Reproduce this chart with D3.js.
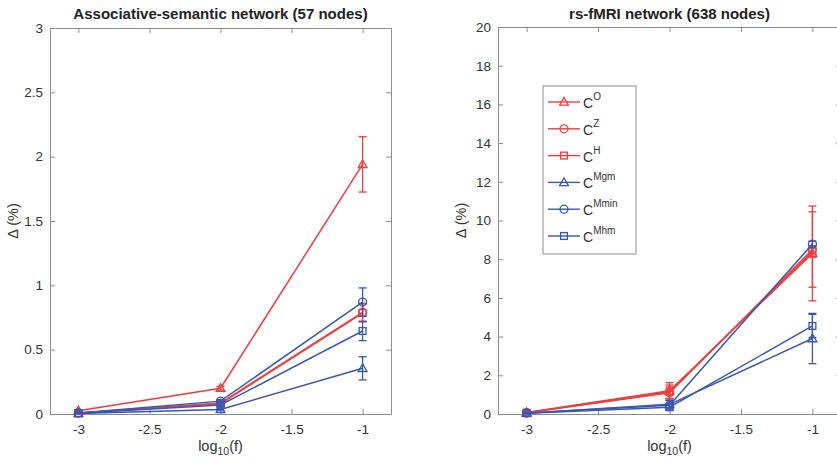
<!DOCTYPE html>
<html>
<head>
<meta charset="utf-8">
<script src="https://cdn.jsdelivr.net/npm/d3@7"></script>
<style>
  body { margin: 0; background: #fff; }
  svg { font-family: "Liberation Sans", Arial, Helvetica, sans-serif; }
  .tick text { fill: #333; font-size: 13.5px; }
  .domain, .tick line { stroke: #8c8c8c; }
</style>
</head>
<body>
<div id="chart"></div>
<script>
// x positions (log10 of f)
var xVals = [-3, -2, -1]
var seriesNames = ["O", "Z", "H", "Mgm", "Mmin", "Mhm"]

// associative-semantic network (57 nodes)
var semO    = [0.025, 0.20, 1.94]
var semOErr = [0.005, 0.015, 0.215]
var semZ    = [0.008, 0.085, 0.79]
var semZErr = [0.003, 0.01, 0.07]
var semH    = [0.008, 0.08, 0.785]
var semHErr = [0.003, 0.01, 0.07]
var semMgm    = [0.004, 0.035, 0.355]
var semMgmErr = [0.002, 0.01, 0.09]
var semMmin    = [0.008, 0.10, 0.87]
var semMminErr = [0.003, 0.012, 0.11]
var semMhm    = [0.006, 0.07, 0.645]
var semMhmErr = [0.002, 0.01, 0.075]

// rs-fMRI network (638 nodes)
var fmriO    = [0.08, 1.2, 8.3]
var fmriOErr = [0.03, 0.42, 2.45]
var fmriZ    = [0.07, 1.1, 8.5]
var fmriZErr = [0.03, 0.3, 1.95]
var fmriH    = [0.06, 1.15, 8.4]
var fmriHErr = [0.03, 0.35, 0.3]
var fmriMgm    = [0.04, 0.5, 3.9]
var fmriMgmErr = [0.02, 0.2, 1.3]
var fmriMmin    = [0.05, 0.45, 8.78]
var fmriMminErr = [0.02, 0.25, 0.15]
var fmriMhm    = [0.04, 0.35, 4.55]
var fmriMhmErr = [0.02, 0.15, 0.6]

var semYTicks = [0, 0.5, 1, 1.5, 2, 2.5, 3]
var fmriYTicks = [0, 2, 4, 6, 8, 10, 12, 14, 16, 18, 20]
var xTicks = [-3, -2.5, -2, -1.5, -1]

var red = "#ef3d3d"
var blue = "#3657b2"
var seriesColors = [red, red, red, blue, blue, blue]
var seriesMarkers = ["tri", "circ", "sq", "tri", "circ", "sq"]

var svg = d3.select("#chart").append("svg")
	.attr("width", 837)
	.attr("height", 463)

function marker(g, type, color) {
	if (type == "tri") {
		g.append("path").attr("d", "M0,-4.6L4.4,3.2L-4.4,3.2Z")
	} else if (type == "circ") {
		g.append("circle").attr("r", 4)
	} else {
		g.append("rect").attr("x", -3.4).attr("y", -3.4).attr("width", 6.8).attr("height", 6.8)
	}
	g.selectAll("*").attr("fill", "none").attr("stroke", color).attr("stroke-width", 1.3)
}

function drawPanel(p) {
	var x = d3.scaleLinear().domain([-3.2, -0.8]).range([p.left, p.right])
	var y = d3.scaleLinear().domain(p.yDomain).range([p.bottom, p.top])
	var g = svg.append("g")

	// axes on all four sides, ticks pointing in
	g.append("g").attr("transform", `translate(0,${p.bottom})`)
		.call(d3.axisBottom(x).tickValues(xTicks).tickFormat(d => d).tickSizeInner(-5).tickSizeOuter(0).tickPadding(10))
	g.append("g").attr("transform", `translate(0,${p.top})`)
		.call(d3.axisTop(x).tickValues(xTicks).tickFormat("").tickSizeInner(-5).tickSizeOuter(0))
	g.append("g").attr("transform", `translate(${p.left},0)`)
		.call(d3.axisLeft(y).tickValues(p.yTicks).tickFormat(d => d).tickSizeInner(-5).tickSizeOuter(0).tickPadding(7))
	g.append("g").attr("transform", `translate(${p.right},0)`)
		.call(d3.axisRight(y).tickValues(p.yTicks).tickFormat("").tickSizeInner(-5).tickSizeOuter(0))
	g.selectAll(".domain").attr("stroke", "#8c8c8c")

	var line = d3.line().x((d, i) => x(xVals[i])).y(d => y(d))

	p.series.forEach((s, k) => {
		var col = seriesColors[k]
		g.append("path").datum(s.vals)
			.attr("d", line)
			.attr("fill", "none")
			.attr("stroke", col)
			.attr("stroke-width", 1.5)
		s.vals.forEach((v, i) => {
			var cx = x(xVals[i])
			var e = s.err[i]
			var eb = g.append("g").attr("stroke", col).attr("stroke-width", 1.3)
			eb.append("line").attr("x1", cx).attr("x2", cx).attr("y1", y(v - e)).attr("y2", y(v + e))
			eb.append("line").attr("x1", cx - 4).attr("x2", cx + 4).attr("y1", y(v - e)).attr("y2", y(v - e))
			eb.append("line").attr("x1", cx - 4).attr("x2", cx + 4).attr("y1", y(v + e)).attr("y2", y(v + e))
			marker(g.append("g").attr("transform", `translate(${cx},${y(v)})`), seriesMarkers[k], col)
		})
	})

	g.append("text")
		.attr("x", (p.left + p.right) / 2).attr("y", 19)
		.attr("text-anchor", "middle")
		.attr("font-weight", "bold").attr("font-size", "15px").attr("fill", "#222")
		.text(p.title)

	var xl = g.append("text")
		.attr("x", x(-2)).attr("y", 451)
		.attr("text-anchor", "middle").attr("font-size", "14.5px").attr("fill", "#333")
	xl.append("tspan").text("log")
	xl.append("tspan").attr("font-size", "10.5px").attr("dy", 4).text("10")
	xl.append("tspan").attr("dy", -4).text("(f)")

	g.append("text")
		.attr("transform", `translate(${p.left - 32},${(p.top + p.bottom) / 2}) rotate(-90)`)
		.attr("text-anchor", "middle").attr("font-size", "14.5px").attr("fill", "#333")
		.text("\u0394 (%)")
}

function pack(vals, errs) {
	return vals.map((v, i) => ({ vals: v, err: errs[i] }))
}

drawPanel({
	left: 50, right: 391, top: 28, bottom: 414,
	yDomain: [0, 3], yTicks: semYTicks,
	title: "Associative-semantic network (57 nodes)",
	series: pack([semO, semZ, semH, semMgm, semMmin, semMhm],
		[semOErr, semZErr, semHErr, semMgmErr, semMminErr, semMhmErr])
})

drawPanel({
	left: 498, right: 841, top: 27, bottom: 414,
	yDomain: [0, 20], yTicks: fmriYTicks,
	title: "rs-fMRI network (638 nodes)",
	series: pack([fmriO, fmriZ, fmriH, fmriMgm, fmriMmin, fmriMhm],
		[fmriOErr, fmriZErr, fmriHErr, fmriMgmErr, fmriMminErr, fmriMhmErr])
})

// legend (right panel)
var legend = svg.append("g")
legend.append("rect")
	.attr("x", 543).attr("y", 86).attr("width", 93).attr("height", 168)
	.attr("fill", "#fff").attr("stroke", "#8c8c8c")
seriesNames.forEach((name, k) => {
	var ly = 102 + k * 26.8
	legend.append("line")
		.attr("x1", 548).attr("x2", 580).attr("y1", ly).attr("y2", ly)
		.attr("stroke", seriesColors[k]).attr("stroke-width", 1.4)
	marker(legend.append("g").attr("transform", `translate(564,${ly})`), seriesMarkers[k], seriesColors[k])
	var t = legend.append("text")
		.attr("x", 583).attr("y", ly + 6)
		.attr("font-size", "14px").attr("fill", "#333")
	t.append("tspan").text("C")
	t.append("tspan").attr("font-size", "10px").attr("dy", -8).text(name)
})
</script>
</body>
</html>
